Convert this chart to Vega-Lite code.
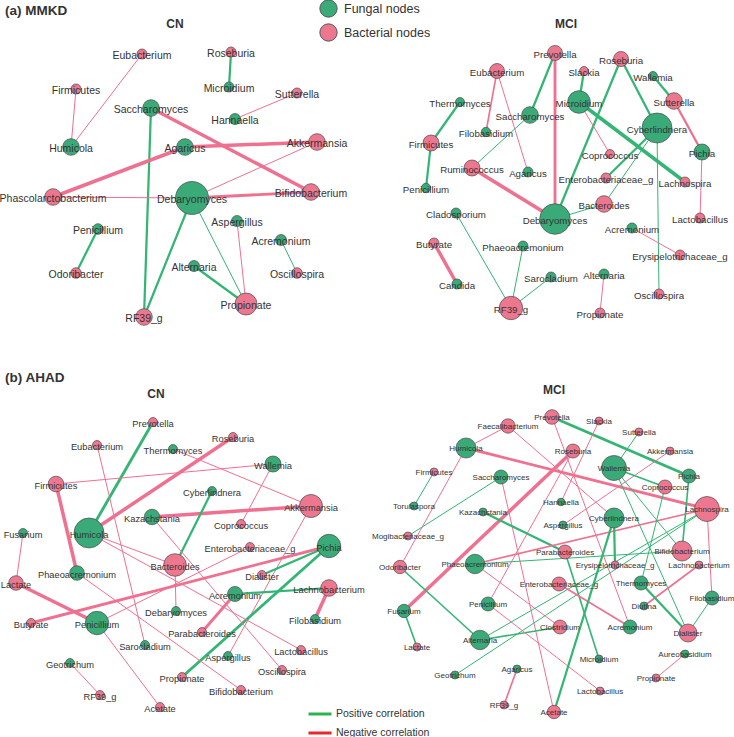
{
"$schema":"https://vega.github.io/schema/vega-lite/v6.json",
"width":734,"height":737,"autosize":{"type":"none"},"padding":0,
"background":"white",
"config":{"view":{"stroke":null},"font":"Liberation Sans"},
"datasets":{
"nodes":[
{"id":"aCN|Eubacterium","panel":"aCN","name":"Eubacterium","type":"Bacterial","x":142,"y":54,"r":5},
{"id":"aCN|Roseburia","panel":"aCN","name":"Roseburia","type":"Bacterial","x":231,"y":52,"r":5},
{"id":"aCN|Microidium","panel":"aCN","name":"Microidium","type":"Fungal","x":229,"y":87,"r":5},
{"id":"aCN|Firmicutes","panel":"aCN","name":"Firmicutes","type":"Bacterial","x":76,"y":89,"r":5},
{"id":"aCN|Sutterella","panel":"aCN","name":"Sutterella","type":"Bacterial","x":297,"y":93,"r":5},
{"id":"aCN|Saccharomyces","panel":"aCN","name":"Saccharomyces","type":"Fungal","x":151,"y":108,"r":8.3},
{"id":"aCN|Hannaella","panel":"aCN","name":"Hannaella","type":"Fungal","x":235,"y":119,"r":5.5},
{"id":"aCN|Humicola","panel":"aCN","name":"Humicola","type":"Fungal","x":71,"y":147,"r":8.3},
{"id":"aCN|Agaricus","panel":"aCN","name":"Agaricus","type":"Fungal","x":185,"y":147,"r":8.3},
{"id":"aCN|Akkermansia","panel":"aCN","name":"Akkermansia","type":"Bacterial","x":317,"y":142,"r":8.3},
{"id":"aCN|Bifidobacterium","panel":"aCN","name":"Bifidobacterium","type":"Bacterial","x":311,"y":192,"r":8.3},
{"id":"aCN|Debaryomyces","panel":"aCN","name":"Debaryomyces","type":"Fungal","x":192,"y":198,"r":16.5},
{"id":"aCN|Phascolarctobacterium","panel":"aCN","name":"Phascolarctobacterium","type":"Bacterial","x":53,"y":197,"r":8.3},
{"id":"aCN|Penicillium","panel":"aCN","name":"Penicillium","type":"Fungal","x":98,"y":229,"r":5.3},
{"id":"aCN|Aspergillus","panel":"aCN","name":"Aspergillus","type":"Fungal","x":237,"y":221,"r":5.5},
{"id":"aCN|Acremonium","panel":"aCN","name":"Acremonium","type":"Fungal","x":281,"y":240,"r":5.5},
{"id":"aCN|Alternaria","panel":"aCN","name":"Alternaria","type":"Fungal","x":194,"y":266,"r":5.5},
{"id":"aCN|Odoribacter","panel":"aCN","name":"Odoribacter","type":"Bacterial","x":76,"y":273,"r":5.3},
{"id":"aCN|Oscillospira","panel":"aCN","name":"Oscillospira","type":"Bacterial","x":297,"y":273,"r":5.3},
{"id":"aCN|Propionate","panel":"aCN","name":"Propionate","type":"Bacterial","x":246,"y":304,"r":11},
{"id":"aCN|RF39_g","panel":"aCN","name":"RF39_g","type":"Bacterial","x":144,"y":317,"r":8.3},
{"id":"aMCI|Prevotella","panel":"aMCI","name":"Prevotella","type":"Bacterial","x":555,"y":53,"r":7.5},
{"id":"aMCI|Roseburia","panel":"aMCI","name":"Roseburia","type":"Bacterial","x":621,"y":59,"r":7.5},
{"id":"aMCI|Eubacterium","panel":"aMCI","name":"Eubacterium","type":"Bacterial","x":497,"y":71,"r":7.5},
{"id":"aMCI|Slackia","panel":"aMCI","name":"Slackia","type":"Bacterial","x":584,"y":71,"r":4.5},
{"id":"aMCI|Wallemia","panel":"aMCI","name":"Wallemia","type":"Fungal","x":653,"y":76,"r":4.5},
{"id":"aMCI|Thermomyces","panel":"aMCI","name":"Thermomyces","type":"Fungal","x":460,"y":102,"r":4.5},
{"id":"aMCI|Microidium","panel":"aMCI","name":"Microidium","type":"Fungal","x":579,"y":102,"r":11.3},
{"id":"aMCI|Sutterella","panel":"aMCI","name":"Sutterella","type":"Bacterial","x":674,"y":101,"r":8.3},
{"id":"aMCI|Saccharomyces","panel":"aMCI","name":"Saccharomyces","type":"Fungal","x":530,"y":115,"r":8.3},
{"id":"aMCI|Cyberlindnera","panel":"aMCI","name":"Cyberlindnera","type":"Fungal","x":657,"y":128,"r":15},
{"id":"aMCI|Filobasidium","panel":"aMCI","name":"Filobasidium","type":"Fungal","x":486,"y":132,"r":4.7},
{"id":"aMCI|Firmicutes","panel":"aMCI","name":"Firmicutes","type":"Bacterial","x":431,"y":143,"r":8},
{"id":"aMCI|Pichia","panel":"aMCI","name":"Pichia","type":"Fungal","x":702,"y":152,"r":8},
{"id":"aMCI|Coprococcus","panel":"aMCI","name":"Coprococcus","type":"Bacterial","x":610,"y":154,"r":4.5},
{"id":"aMCI|Ruminococcus","panel":"aMCI","name":"Ruminococcus","type":"Bacterial","x":472,"y":168,"r":8},
{"id":"aMCI|Agaricus","panel":"aMCI","name":"Agaricus","type":"Fungal","x":528,"y":172,"r":5},
{"id":"aMCI|Enterobacteriaceae_g","panel":"aMCI","name":"Enterobacteriaceae_g","type":"Bacterial","x":606,"y":178,"r":5},
{"id":"aMCI|Lachnospira","panel":"aMCI","name":"Lachnospira","type":"Bacterial","x":685,"y":182,"r":5},
{"id":"aMCI|Penicillium","panel":"aMCI","name":"Penicillium","type":"Fungal","x":426,"y":188,"r":4.7},
{"id":"aMCI|Bacteroides","panel":"aMCI","name":"Bacteroides","type":"Bacterial","x":604,"y":204,"r":8.3},
{"id":"aMCI|Debaryomyces","panel":"aMCI","name":"Debaryomyces","type":"Fungal","x":555,"y":219,"r":15.3},
{"id":"aMCI|Lactobacillus","panel":"aMCI","name":"Lactobacillus","type":"Bacterial","x":700,"y":218,"r":5},
{"id":"aMCI|Cladosporium","panel":"aMCI","name":"Cladosporium","type":"Fungal","x":456,"y":213,"r":5},
{"id":"aMCI|Acremonium","panel":"aMCI","name":"Acremonium","type":"Fungal","x":632,"y":228,"r":5},
{"id":"aMCI|Butyrate","panel":"aMCI","name":"Butyrate","type":"Bacterial","x":434,"y":243,"r":5},
{"id":"aMCI|Phaeoacremonium","panel":"aMCI","name":"Phaeoacremonium","type":"Fungal","x":523,"y":246,"r":5},
{"id":"aMCI|Erysipelotrichaceae_g","panel":"aMCI","name":"Erysipelotrichaceae_g","type":"Bacterial","x":680,"y":255,"r":5},
{"id":"aMCI|Sarocladium","panel":"aMCI","name":"Sarocladium","type":"Fungal","x":551,"y":277,"r":5},
{"id":"aMCI|Alternaria","panel":"aMCI","name":"Alternaria","type":"Fungal","x":604,"y":274,"r":5},
{"id":"aMCI|Candida","panel":"aMCI","name":"Candida","type":"Fungal","x":457,"y":284,"r":5},
{"id":"aMCI|Oscillospira","panel":"aMCI","name":"Oscillospira","type":"Bacterial","x":659,"y":294,"r":5},
{"id":"aMCI|RF39_g","panel":"aMCI","name":"RF39_g","type":"Bacterial","x":511,"y":308,"r":11.7},
{"id":"aMCI|Propionate","panel":"aMCI","name":"Propionate","type":"Bacterial","x":600,"y":313,"r":5},
{"id":"bCN|Prevotella","panel":"bCN","name":"Prevotella","type":"Bacterial","x":153,"y":422,"r":4.5},
{"id":"bCN|Roseburia","panel":"bCN","name":"Roseburia","type":"Bacterial","x":233,"y":437,"r":4.5},
{"id":"bCN|Eubacterium","panel":"bCN","name":"Eubacterium","type":"Bacterial","x":97,"y":445,"r":4.5},
{"id":"bCN|Thermomyces","panel":"bCN","name":"Thermomyces","type":"Fungal","x":173,"y":449,"r":4.5},
{"id":"bCN|Wallemia","panel":"bCN","name":"Wallemia","type":"Fungal","x":273,"y":464,"r":8},
{"id":"bCN|Firmicutes","panel":"bCN","name":"Firmicutes","type":"Bacterial","x":56,"y":484,"r":7.8},
{"id":"bCN|Cyberlindnera","panel":"bCN","name":"Cyberlindnera","type":"Fungal","x":212,"y":491,"r":4.5},
{"id":"bCN|Akkermansia","panel":"bCN","name":"Akkermansia","type":"Bacterial","x":311,"y":506,"r":11.5},
{"id":"bCN|Kazachstania","panel":"bCN","name":"Kazachstania","type":"Fungal","x":152,"y":517,"r":7.7},
{"id":"bCN|Coprococcus","panel":"bCN","name":"Coprococcus","type":"Bacterial","x":241,"y":524,"r":4.5},
{"id":"bCN|Humicola","panel":"bCN","name":"Humicola","type":"Fungal","x":89,"y":533,"r":15},
{"id":"bCN|Fusarium","panel":"bCN","name":"Fusarium","type":"Fungal","x":23,"y":533,"r":4.5},
{"id":"bCN|Enterobacteriaceae_g","panel":"bCN","name":"Enterobacteriaceae_g","type":"Bacterial","x":250,"y":547,"r":4.5},
{"id":"bCN|Pichia","panel":"bCN","name":"Pichia","type":"Fungal","x":329,"y":546,"r":11.7},
{"id":"bCN|Bacteroides","panel":"bCN","name":"Bacteroides","type":"Bacterial","x":175,"y":565,"r":11.3},
{"id":"bCN|Phaeoacremonium","panel":"bCN","name":"Phaeoacremonium","type":"Fungal","x":77,"y":573,"r":7.3},
{"id":"bCN|Lactate","panel":"bCN","name":"Lactate","type":"Bacterial","x":16,"y":583,"r":7.3},
{"id":"bCN|Dialister","panel":"bCN","name":"Dialister","type":"Bacterial","x":262,"y":575,"r":4.5},
{"id":"bCN|Acremonium","panel":"bCN","name":"Acremonium","type":"Fungal","x":235,"y":594,"r":7.5},
{"id":"bCN|Lachnobacterium","panel":"bCN","name":"Lachnobacterium","type":"Bacterial","x":329,"y":588,"r":8.3},
{"id":"bCN|Debaryomyces","panel":"bCN","name":"Debaryomyces","type":"Fungal","x":176,"y":611,"r":4.5},
{"id":"bCN|Butyrate","panel":"bCN","name":"Butyrate","type":"Bacterial","x":31,"y":623,"r":4.5},
{"id":"bCN|Penicillium","panel":"bCN","name":"Penicillium","type":"Fungal","x":97,"y":623,"r":11.7},
{"id":"bCN|Filobasidium","panel":"bCN","name":"Filobasidium","type":"Fungal","x":315,"y":619,"r":4.5},
{"id":"bCN|Parabacteroides","panel":"bCN","name":"Parabacteroides","type":"Bacterial","x":202,"y":632,"r":4.5},
{"id":"bCN|Sarocladium","panel":"bCN","name":"Sarocladium","type":"Fungal","x":145,"y":645,"r":4.5},
{"id":"bCN|Lactobacillus","panel":"bCN","name":"Lactobacillus","type":"Bacterial","x":301,"y":650,"r":4.5},
{"id":"bCN|Aspergillus","panel":"bCN","name":"Aspergillus","type":"Fungal","x":228,"y":656,"r":4.5},
{"id":"bCN|Geotrichum","panel":"bCN","name":"Geotrichum","type":"Fungal","x":70,"y":663,"r":4.5},
{"id":"bCN|Oscillospira","panel":"bCN","name":"Oscillospira","type":"Bacterial","x":282,"y":670,"r":4.5},
{"id":"bCN|Propionate","panel":"bCN","name":"Propionate","type":"Bacterial","x":182,"y":677,"r":4.5},
{"id":"bCN|Bifidobacterium","panel":"bCN","name":"Bifidobacterium","type":"Bacterial","x":241,"y":690,"r":4.5},
{"id":"bCN|RF39_g","panel":"bCN","name":"RF39_g","type":"Bacterial","x":100,"y":695,"r":4.5},
{"id":"bCN|Acetate","panel":"bCN","name":"Acetate","type":"Bacterial","x":160,"y":707,"r":4.5},
{"id":"bMCI|Prevotella","panel":"bMCI","name":"Prevotella","type":"Bacterial","x":552,"y":417,"r":7.3},
{"id":"bMCI|Slackia","panel":"bMCI","name":"Slackia","type":"Bacterial","x":599,"y":421,"r":4},
{"id":"bMCI|Faecalibacterium","panel":"bMCI","name":"Faecalibacterium","type":"Bacterial","x":508,"y":426,"r":7.2},
{"id":"bMCI|Sutterella","panel":"bMCI","name":"Sutterella","type":"Bacterial","x":639,"y":432,"r":4},
{"id":"bMCI|Humicola","panel":"bMCI","name":"Humicola","type":"Fungal","x":466,"y":448,"r":10},
{"id":"bMCI|Roseburia","panel":"bMCI","name":"Roseburia","type":"Bacterial","x":573,"y":451,"r":7},
{"id":"bMCI|Akkermansia","panel":"bMCI","name":"Akkermansia","type":"Bacterial","x":670,"y":451,"r":4},
{"id":"bMCI|Wallemia","panel":"bMCI","name":"Wallemia","type":"Fungal","x":614,"y":468,"r":12.5},
{"id":"bMCI|Firmicutes","panel":"bMCI","name":"Firmicutes","type":"Bacterial","x":434,"y":472,"r":4},
{"id":"bMCI|Saccharomyces","panel":"bMCI","name":"Saccharomyces","type":"Fungal","x":501,"y":477,"r":7},
{"id":"bMCI|Pichia","panel":"bMCI","name":"Pichia","type":"Fungal","x":689,"y":476,"r":7},
{"id":"bMCI|Coprococcus","panel":"bMCI","name":"Coprococcus","type":"Bacterial","x":665,"y":487,"r":7},
{"id":"bMCI|Hannaella","panel":"bMCI","name":"Hannaella","type":"Fungal","x":561,"y":502,"r":3.8},
{"id":"bMCI|Torulaspora","panel":"bMCI","name":"Torulaspora","type":"Fungal","x":414,"y":506,"r":4},
{"id":"bMCI|Lachnospira","panel":"bMCI","name":"Lachnospira","type":"Bacterial","x":707,"y":509,"r":12.5},
{"id":"bMCI|Kazachstania","panel":"bMCI","name":"Kazachstania","type":"Fungal","x":483,"y":512,"r":4},
{"id":"bMCI|Cyberlindnera","panel":"bMCI","name":"Cyberlindnera","type":"Fungal","x":614,"y":518,"r":10},
{"id":"bMCI|Aspergillus","panel":"bMCI","name":"Aspergillus","type":"Fungal","x":563,"y":525,"r":4},
{"id":"bMCI|Mogibacteriaceae_g","panel":"bMCI","name":"Mogibacteriaceae_g","type":"Bacterial","x":408,"y":536,"r":4},
{"id":"bMCI|Parabacteroides","panel":"bMCI","name":"Parabacteroides","type":"Bacterial","x":565,"y":552,"r":7},
{"id":"bMCI|Bifidobacterium","panel":"bMCI","name":"Bifidobacterium","type":"Bacterial","x":682,"y":551,"r":10},
{"id":"bMCI|Phaeoacremonium","panel":"bMCI","name":"Phaeoacremonium","type":"Fungal","x":475,"y":564,"r":9.7},
{"id":"bMCI|Odoribacter","panel":"bMCI","name":"Odoribacter","type":"Bacterial","x":400,"y":567,"r":6.7},
{"id":"bMCI|Erysipelotrichaceae_g","panel":"bMCI","name":"Erysipelotrichaceae_g","type":"Bacterial","x":615,"y":565,"r":4},
{"id":"bMCI|Lachnobacterium","panel":"bMCI","name":"Lachnobacterium","type":"Bacterial","x":699,"y":565,"r":4},
{"id":"bMCI|Enterobacteriaceae_g","panel":"bMCI","name":"Enterobacteriaceae_g","type":"Bacterial","x":559,"y":584,"r":7},
{"id":"bMCI|Thermomyces","panel":"bMCI","name":"Thermomyces","type":"Fungal","x":641,"y":583,"r":7},
{"id":"bMCI|Filobasidium","panel":"bMCI","name":"Filobasidium","type":"Fungal","x":712,"y":598,"r":7},
{"id":"bMCI|Penicillium","panel":"bMCI","name":"Penicillium","type":"Fungal","x":488,"y":604,"r":7},
{"id":"bMCI|Fusarium","panel":"bMCI","name":"Fusarium","type":"Fungal","x":404,"y":611,"r":6.7},
{"id":"bMCI|Diutina","panel":"bMCI","name":"Diutina","type":"Fungal","x":644,"y":606,"r":4},
{"id":"bMCI|Clostridium","panel":"bMCI","name":"Clostridium","type":"Bacterial","x":560,"y":627,"r":7},
{"id":"bMCI|Alternaria","panel":"bMCI","name":"Alternaria","type":"Fungal","x":480,"y":640,"r":9.7},
{"id":"bMCI|Acremonium","panel":"bMCI","name":"Acremonium","type":"Fungal","x":630,"y":627,"r":7},
{"id":"bMCI|Dialister","panel":"bMCI","name":"Dialister","type":"Bacterial","x":688,"y":633,"r":9},
{"id":"bMCI|Lactate","panel":"bMCI","name":"Lactate","type":"Bacterial","x":417,"y":647,"r":4},
{"id":"bMCI|Aureobasidium","panel":"bMCI","name":"Aureobasidium","type":"Fungal","x":685,"y":654,"r":4},
{"id":"bMCI|Microidium","panel":"bMCI","name":"Microidium","type":"Fungal","x":599,"y":659,"r":4},
{"id":"bMCI|Agaricus","panel":"bMCI","name":"Agaricus","type":"Fungal","x":517,"y":669,"r":4},
{"id":"bMCI|Geotrichum","panel":"bMCI","name":"Geotrichum","type":"Fungal","x":455,"y":675,"r":4},
{"id":"bMCI|Propionate","panel":"bMCI","name":"Propionate","type":"Bacterial","x":656,"y":678,"r":4},
{"id":"bMCI|Lactobacillus","panel":"bMCI","name":"Lactobacillus","type":"Bacterial","x":600,"y":691,"r":4},
{"id":"bMCI|RF39_g","panel":"bMCI","name":"RF39_g","type":"Bacterial","x":504,"y":705,"r":4},
{"id":"bMCI|Acetate","panel":"bMCI","name":"Acetate","type":"Bacterial","x":554,"y":712,"r":6.7}
],
"edges":[
{"s":"aCN|Eubacterium","t":"aCN|Humicola","sign":"negative","w":1},
{"s":"aCN|Firmicutes","t":"aCN|Humicola","sign":"negative","w":1},
{"s":"aCN|Roseburia","t":"aCN|Microidium","sign":"positive","w":2},
{"s":"aCN|Sutterella","t":"aCN|Hannaella","sign":"negative","w":1},
{"s":"aCN|Saccharomyces","t":"aCN|Bifidobacterium","sign":"negative","w":3},
{"s":"aCN|Saccharomyces","t":"aCN|RF39_g","sign":"positive","w":2},
{"s":"aCN|Agaricus","t":"aCN|Akkermansia","sign":"negative","w":3},
{"s":"aCN|Agaricus","t":"aCN|Phascolarctobacterium","sign":"negative","w":3},
{"s":"aCN|Akkermansia","t":"aCN|Debaryomyces","sign":"negative","w":1},
{"s":"aCN|Phascolarctobacterium","t":"aCN|Debaryomyces","sign":"negative","w":1},
{"s":"aCN|Debaryomyces","t":"aCN|Bifidobacterium","sign":"negative","w":2.5},
{"s":"aCN|Debaryomyces","t":"aCN|RF39_g","sign":"positive","w":2},
{"s":"aCN|Debaryomyces","t":"aCN|Propionate","sign":"positive","w":1},
{"s":"aCN|Penicillium","t":"aCN|Odoribacter","sign":"positive","w":2},
{"s":"aCN|Aspergillus","t":"aCN|Propionate","sign":"negative","w":1},
{"s":"aCN|Acremonium","t":"aCN|Oscillospira","sign":"positive","w":1},
{"s":"aCN|Alternaria","t":"aCN|Propionate","sign":"positive","w":2},
{"s":"aMCI|Prevotella","t":"aMCI|Saccharomyces","sign":"positive","w":2},
{"s":"aMCI|Prevotella","t":"aMCI|Debaryomyces","sign":"negative","w":2.5},
{"s":"aMCI|Eubacterium","t":"aMCI|Filobasidium","sign":"negative","w":1.5},
{"s":"aMCI|Eubacterium","t":"aMCI|Agaricus","sign":"negative","w":1},
{"s":"aMCI|Thermomyces","t":"aMCI|Firmicutes","sign":"positive","w":2},
{"s":"aMCI|Firmicutes","t":"aMCI|Penicillium","sign":"positive","w":2},
{"s":"aMCI|Saccharomyces","t":"aMCI|Ruminococcus","sign":"positive","w":1},
{"s":"aMCI|Ruminococcus","t":"aMCI|Debaryomyces","sign":"negative","w":3},
{"s":"aMCI|Slackia","t":"aMCI|Microidium","sign":"positive","w":2},
{"s":"aMCI|Roseburia","t":"aMCI|Debaryomyces","sign":"positive","w":2},
{"s":"aMCI|Roseburia","t":"aMCI|Cyberlindnera","sign":"positive","w":2},
{"s":"aMCI|Microidium","t":"aMCI|Lachnospira","sign":"positive","w":3},
{"s":"aMCI|Microidium","t":"aMCI|Coprococcus","sign":"negative","w":1},
{"s":"aMCI|Wallemia","t":"aMCI|Sutterella","sign":"positive","w":2},
{"s":"aMCI|Sutterella","t":"aMCI|Pichia","sign":"negative","w":2},
{"s":"aMCI|Pichia","t":"aMCI|Lactobacillus","sign":"negative","w":1},
{"s":"aMCI|Cyberlindnera","t":"aMCI|Enterobacteriaceae_g","sign":"positive","w":2},
{"s":"aMCI|Cyberlindnera","t":"aMCI|Bacteroides","sign":"positive","w":1},
{"s":"aMCI|Cyberlindnera","t":"aMCI|Oscillospira","sign":"positive","w":1},
{"s":"aMCI|Debaryomyces","t":"aMCI|Bacteroides","sign":"positive","w":1},
{"s":"aMCI|Cladosporium","t":"aMCI|RF39_g","sign":"positive","w":1},
{"s":"aMCI|Phaeoacremonium","t":"aMCI|RF39_g","sign":"positive","w":1},
{"s":"aMCI|Sarocladium","t":"aMCI|RF39_g","sign":"positive","w":1},
{"s":"aMCI|Butyrate","t":"aMCI|Candida","sign":"negative","w":3},
{"s":"aMCI|Acremonium","t":"aMCI|Erysipelotrichaceae_g","sign":"negative","w":1},
{"s":"aMCI|Alternaria","t":"aMCI|Propionate","sign":"negative","w":1},
{"s":"bCN|Prevotella","t":"bCN|Humicola","sign":"positive","w":2.5},
{"s":"bCN|Roseburia","t":"bCN|Humicola","sign":"negative","w":3},
{"s":"bCN|Eubacterium","t":"bCN|Sarocladium","sign":"negative","w":1},
{"s":"bCN|Thermomyces","t":"bCN|Akkermansia","sign":"negative","w":1},
{"s":"bCN|Wallemia","t":"bCN|Firmicutes","sign":"negative","w":1},
{"s":"bCN|Wallemia","t":"bCN|Coprococcus","sign":"negative","w":1},
{"s":"bCN|Firmicutes","t":"bCN|Phaeoacremonium","sign":"negative","w":3},
{"s":"bCN|Lactate","t":"bCN|Penicillium","sign":"negative","w":3},
{"s":"bCN|Butyrate","t":"bCN|Pichia","sign":"negative","w":2.5},
{"s":"bCN|Kazachstania","t":"bCN|Akkermansia","sign":"negative","w":3},
{"s":"bCN|Cyberlindnera","t":"bCN|Bacteroides","sign":"positive","w":2},
{"s":"bCN|Akkermansia","t":"bCN|Aspergillus","sign":"negative","w":1},
{"s":"bCN|Pichia","t":"bCN|Dialister","sign":"positive","w":2},
{"s":"bCN|Pichia","t":"bCN|Propionate","sign":"positive","w":2.5},
{"s":"bCN|Acremonium","t":"bCN|Parabacteroides","sign":"negative","w":2.5},
{"s":"bCN|Acremonium","t":"bCN|Lachnobacterium","sign":"positive","w":2},
{"s":"bCN|Lachnobacterium","t":"bCN|Filobasidium","sign":"negative","w":3},
{"s":"bCN|Humicola","t":"bCN|Bacteroides","sign":"negative","w":1},
{"s":"bCN|Humicola","t":"bCN|Lactobacillus","sign":"negative","w":1},
{"s":"bCN|Kazachstania","t":"bCN|Oscillospira","sign":"negative","w":1},
{"s":"bCN|Bacteroides","t":"bCN|Debaryomyces","sign":"negative","w":1},
{"s":"bCN|Penicillium","t":"bCN|Enterobacteriaceae_g","sign":"negative","w":1},
{"s":"bCN|Penicillium","t":"bCN|Acetate","sign":"negative","w":1},
{"s":"bCN|Phaeoacremonium","t":"bCN|Bifidobacterium","sign":"negative","w":1},
{"s":"bCN|Geotrichum","t":"bCN|RF39_g","sign":"negative","w":1},
{"s":"bCN|Fusarium","t":"bCN|Lactate","sign":"negative","w":1},
{"s":"bMCI|Prevotella","t":"bMCI|Pichia","sign":"positive","w":2.5},
{"s":"bMCI|Prevotella","t":"bMCI|Acremonium","sign":"negative","w":1},
{"s":"bMCI|Slackia","t":"bMCI|Hannaella","sign":"negative","w":1},
{"s":"bMCI|Sutterella","t":"bMCI|Wallemia","sign":"positive","w":1},
{"s":"bMCI|Akkermansia","t":"bMCI|Aspergillus","sign":"negative","w":1},
{"s":"bMCI|Faecalibacterium","t":"bMCI|Humicola","sign":"negative","w":1},
{"s":"bMCI|Faecalibacterium","t":"bMCI|Cyberlindnera","sign":"negative","w":1},
{"s":"bMCI|Humicola","t":"bMCI|Lachnospira","sign":"negative","w":2.5},
{"s":"bMCI|Humicola","t":"bMCI|Odoribacter","sign":"negative","w":1},
{"s":"bMCI|Roseburia","t":"bMCI|Fusarium","sign":"negative","w":3},
{"s":"bMCI|Roseburia","t":"bMCI|Penicillium","sign":"negative","w":1},
{"s":"bMCI|Firmicutes","t":"bMCI|Torulaspora","sign":"positive","w":1},
{"s":"bMCI|Saccharomyces","t":"bMCI|Mogibacteriaceae_g","sign":"positive","w":1},
{"s":"bMCI|Saccharomyces","t":"bMCI|Acetate","sign":"negative","w":1},
{"s":"bMCI|Kazachstania","t":"bMCI|Parabacteroides","sign":"positive","w":2},
{"s":"bMCI|Parabacteroides","t":"bMCI|Microidium","sign":"positive","w":1.5},
{"s":"bMCI|Lachnospira","t":"bMCI|Phaeoacremonium","sign":"negative","w":1.5},
{"s":"bMCI|Phaeoacremonium","t":"bMCI|Bifidobacterium","sign":"positive","w":1},
{"s":"bMCI|Phaeoacremonium","t":"bMCI|Clostridium","sign":"negative","w":1},
{"s":"bMCI|Wallemia","t":"bMCI|Coprococcus","sign":"positive","w":1.5},
{"s":"bMCI|Wallemia","t":"bMCI|Bifidobacterium","sign":"positive","w":1},
{"s":"bMCI|Wallemia","t":"bMCI|Dialister","sign":"positive","w":1},
{"s":"bMCI|Pichia","t":"bMCI|Bifidobacterium","sign":"positive","w":1.5},
{"s":"bMCI|Coprococcus","t":"bMCI|Thermomyces","sign":"positive","w":1},
{"s":"bMCI|Lachnospira","t":"bMCI|Filobasidium","sign":"negative","w":1},
{"s":"bMCI|Geotrichum","t":"bMCI|Lachnospira","sign":"positive","w":1},
{"s":"bMCI|Alternaria","t":"bMCI|Lachnospira","sign":"positive","w":1},
{"s":"bMCI|Alternaria","t":"bMCI|Clostridium","sign":"positive","w":1.5},
{"s":"bMCI|Odoribacter","t":"bMCI|Alternaria","sign":"positive","w":1.5},
{"s":"bMCI|Fusarium","t":"bMCI|Lactate","sign":"positive","w":1.5},
{"s":"bMCI|Agaricus","t":"bMCI|RF39_g","sign":"negative","w":1.5},
{"s":"bMCI|Enterobacteriaceae_g","t":"bMCI|Acremonium","sign":"negative","w":1.5},
{"s":"bMCI|Penicillium","t":"bMCI|Lactobacillus","sign":"negative","w":1},
{"s":"bMCI|Lachnobacterium","t":"bMCI|Diutina","sign":"negative","w":1.5},
{"s":"bMCI|Thermomyces","t":"bMCI|Dialister","sign":"positive","w":2},
{"s":"bMCI|Filobasidium","t":"bMCI|Dialister","sign":"positive","w":1},
{"s":"bMCI|Aureobasidium","t":"bMCI|Propionate","sign":"negative","w":1},
{"s":"bMCI|Cyberlindnera","t":"bMCI|Erysipelotrichaceae_g","sign":"positive","w":2},
{"s":"bMCI|Cyberlindnera","t":"bMCI|Acetate","sign":"positive","w":2}
],
"titles":[
{"text":"(a) MMKD","kind":"section","x":5,"y":11},
{"text":"CN","kind":"group","x":175,"y":24},
{"text":"MCI","kind":"group","x":566,"y":24},
{"text":"(b) AHAD","kind":"section","x":5,"y":378},
{"text":"CN","kind":"group","x":156,"y":394},
{"text":"MCI","kind":"group","x":554,"y":390}
]
},
"layer":[
{
"data":{"name":"edges"},
"transform":[
{"lookup":"s","from":{"data":{"name":"nodes"},"key":"id","fields":["x","y"]},"as":["x1","y1"]},
{"lookup":"t","from":{"data":{"name":"nodes"},"key":"id","fields":["x","y"]},"as":["x2","y2"]}
],
"mark":{"type":"rule"},
"encoding":{
"x":{"field":"x1","type":"quantitative","scale":{"domain":[0,734],"nice":false,"zero":false},"axis":null},
"y":{"field":"y1","type":"quantitative","scale":{"domain":[0,737],"nice":false,"zero":false,"reverse":true},"axis":null},
"x2":{"field":"x2"},
"y2":{"field":"y2"},
"color":{"field":"sign","type":"nominal","scale":{"domain":["positive","negative"],"range":["#33b574","#ef7090"]},"legend":null},
"strokeWidth":{"field":"w","type":"quantitative","scale":{"domain":[1,3],"range":[1,3.5]},"legend":null}
}
},
{
"data":{"name":"edges"},
"transform":[{"filter":"false"}],
"mark":{"type":"rule"},
"encoding":{
"x":{"field":"w","type":"quantitative","scale":{"domain":[0,734],"nice":false,"zero":false},"axis":null},
"y":{"field":"w","type":"quantitative","scale":{"domain":[0,737],"nice":false,"zero":false,"reverse":true},"axis":null},
"color":{"field":"sign","type":"nominal","scale":{"domain":["positive","negative"],"range":["#2db34b","#e8262c"]},
"legend":{"orient":"none","legendX":307,"legendY":701,"title":null,"symbolType":"stroke","symbolSize":529,"symbolStrokeWidth":3,"labelFontSize":10.5,"labelColor":"#333","labelFont":"Liberation Sans","labelOffset":3,"rowPadding":-10,
"labelExpr":"datum.label == 'positive' ? 'Positive correlation' : 'Negative correlation'"}}
}
},
{
"data":{"name":"nodes"},
"mark":{"type":"point","filled":true,"shape":"circle","stroke":"#4a4a4a","strokeWidth":0.7,"opacity":1},
"encoding":{
"x":{"field":"x","type":"quantitative","scale":{"domain":[0,734],"nice":false,"zero":false},"axis":null},
"y":{"field":"y","type":"quantitative","scale":{"domain":[0,737],"nice":false,"zero":false,"reverse":true},"axis":null},
"color":{"field":"type","type":"nominal","scale":{"domain":["Fungal","Bacterial"],"range":["#3aaa78","#ee7790"]},
"legend":{"orient":"none","legendX":319,"legendY":-1,"title":null,"symbolType":"circle","symbolSize":300,"symbolStrokeColor":"#555","symbolStrokeWidth":1,"symbolOpacity":1,"labelFontSize":12.5,"labelColor":"#333","labelFont":"Liberation Sans","labelOffset":6,"rowPadding":1,
"labelExpr":"datum.label + ' nodes'"}},
"size":{"field":"r","type":"quantitative","scale":{"type":"pow","exponent":2,"domain":[0,10],"range":[0,400]},"legend":null}
}
},
{
"data":{"name":"nodes"},
"transform":[{"filter":"datum.panel == 'aCN'"}],
"mark":{"type":"text","align":"center","baseline":"middle","dy":1.5,"fontSize":10.5,"color":"#333333","font":"Liberation Sans"},
"encoding":{
"x":{"field":"x","type":"quantitative","scale":{"domain":[0,734],"nice":false,"zero":false},"axis":null},
"y":{"field":"y","type":"quantitative","scale":{"domain":[0,737],"nice":false,"zero":false,"reverse":true},"axis":null},
"text":{"field":"name"}
}
},
{
"data":{"name":"nodes"},
"transform":[{"filter":"datum.panel == 'aMCI'"}],
"mark":{"type":"text","align":"center","baseline":"middle","dy":1.5,"fontSize":9.7,"color":"#333333","font":"Liberation Sans"},
"encoding":{
"x":{"field":"x","type":"quantitative","scale":{"domain":[0,734],"nice":false,"zero":false},"axis":null},
"y":{"field":"y","type":"quantitative","scale":{"domain":[0,737],"nice":false,"zero":false,"reverse":true},"axis":null},
"text":{"field":"name"}
}
},
{
"data":{"name":"nodes"},
"transform":[{"filter":"datum.panel == 'bCN'"}],
"mark":{"type":"text","align":"center","baseline":"middle","dy":1.5,"fontSize":9.3,"color":"#333333","font":"Liberation Sans"},
"encoding":{
"x":{"field":"x","type":"quantitative","scale":{"domain":[0,734],"nice":false,"zero":false},"axis":null},
"y":{"field":"y","type":"quantitative","scale":{"domain":[0,737],"nice":false,"zero":false,"reverse":true},"axis":null},
"text":{"field":"name"}
}
},
{
"data":{"name":"nodes"},
"transform":[{"filter":"datum.panel == 'bMCI'"}],
"mark":{"type":"text","align":"center","baseline":"middle","dy":1,"fontSize":8,"color":"#333333","font":"Liberation Sans"},
"encoding":{
"x":{"field":"x","type":"quantitative","scale":{"domain":[0,734],"nice":false,"zero":false},"axis":null},
"y":{"field":"y","type":"quantitative","scale":{"domain":[0,737],"nice":false,"zero":false,"reverse":true},"axis":null},
"text":{"field":"name"}
}
},
{
"data":{"name":"titles"},
"transform":[{"filter":"datum.kind == 'section'"}],
"mark":{"type":"text","align":"left","baseline":"middle","fontWeight":"bold","fontSize":13.5,"color":"#333333","font":"Liberation Sans"},
"encoding":{
"x":{"field":"x","type":"quantitative","scale":{"domain":[0,734],"nice":false,"zero":false},"axis":null},
"y":{"field":"y","type":"quantitative","scale":{"domain":[0,737],"nice":false,"zero":false,"reverse":true},"axis":null},
"text":{"field":"text"}
}
},
{
"data":{"name":"titles"},
"transform":[{"filter":"datum.kind == 'group'"}],
"mark":{"type":"text","align":"center","baseline":"middle","fontWeight":"bold","fontSize":12,"color":"#333333","font":"Liberation Sans"},
"encoding":{
"x":{"field":"x","type":"quantitative","scale":{"domain":[0,734],"nice":false,"zero":false},"axis":null},
"y":{"field":"y","type":"quantitative","scale":{"domain":[0,737],"nice":false,"zero":false,"reverse":true},"axis":null},
"text":{"field":"text"}
}
}
],
"resolve":{"scale":{"color":"independent"},"legend":{"color":"independent"}}
}
